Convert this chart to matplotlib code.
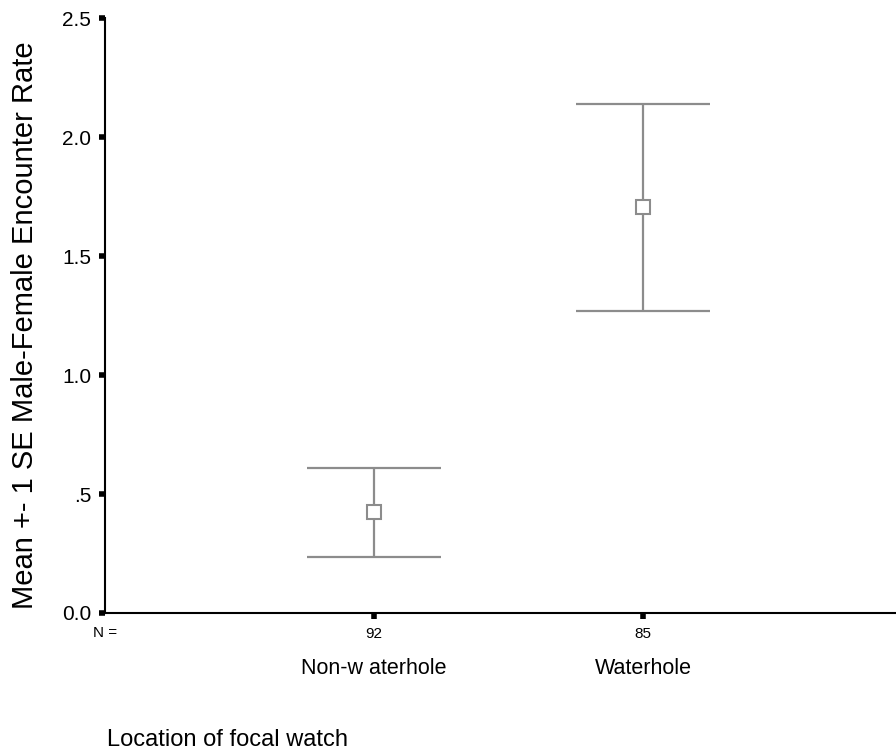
import matplotlib
matplotlib.use("Agg")
import matplotlib.pyplot as plt
import matplotlib.transforms as mtransforms

# data
groups = ["Non-w aterhole", "Waterhole"]
n_counts = [92, 85]
means = [0.423, 1.705]
se = [0.187, 0.435]

plt.rcParams['font.family'] = ['Liberation Sans', 'DejaVu Sans']

fig = plt.figure(figsize=(8.96, 7.53), dpi=100)
W, H = 896, 753
ax = fig.add_axes([105 / W, 1 - 613 / H, 1 - 105 / W, (613 - 18) / H])

xs = [1, 2]
lo = [m - s for m, s in zip(means, se)]
hi = [m + s for m, s in zip(means, se)]
grey = '#8c8c8c'
ax.vlines(xs, lo, hi, color=grey, lw=1.6)
ax.hlines(lo, [x - 0.25 for x in xs], [x + 0.25 for x in xs], color=grey, lw=1.6)
ax.hlines(hi, [x - 0.25 for x in xs], [x + 0.25 for x in xs], color=grey, lw=1.6)
ax.plot(xs, means, ls='none', marker='s', ms=10, mfc='white', mec=grey, mew=1.5, zorder=3)

ax.set_xlim(0.0, 2.94)
ax.set_ylim(0, 2.5)
ax.set_yticks([0, 0.5, 1.0, 1.5, 2.0, 2.5])
ax.set_yticklabels(['0.0', '.5', '1.0', '1.5', '2.0', '2.5'], fontsize=15)
ax.set_xticks(xs)
ax.set_xticklabels([str(v) for v in n_counts], fontsize=11)

for side in ['top', 'right']:
    ax.spines[side].set_visible(False)
for side in ['left', 'bottom']:
    ax.spines[side].set_linewidth(1.5)
ax.tick_params(axis='both', length=4, width=4, color='black')
ax.tick_params(axis='y', pad=6)
ax.tick_params(axis='x', pad=6)

fig.text(25 / W, 1 - 325 / H, 'Mean +- 1 SE Male-Female Encounter Rate',
         rotation=90, ha='center', va='center', fontsize=21)

trans = mtransforms.blended_transform_factory(ax.transData, fig.transFigure)
ax.text(0.0, 1 - 633 / H, 'N =', transform=trans, ha='center', va='center', fontsize=11)
for x, g in zip(xs, groups):
    ax.text(x, 1 - 668 / H, g, transform=trans, ha='center', va='center', fontsize=15.5)

fig.text(107 / W, 1 - 740 / H, 'Location of focal watch', ha='left', va='center', fontsize=17)

fig.savefig('out.png', dpi=100)
